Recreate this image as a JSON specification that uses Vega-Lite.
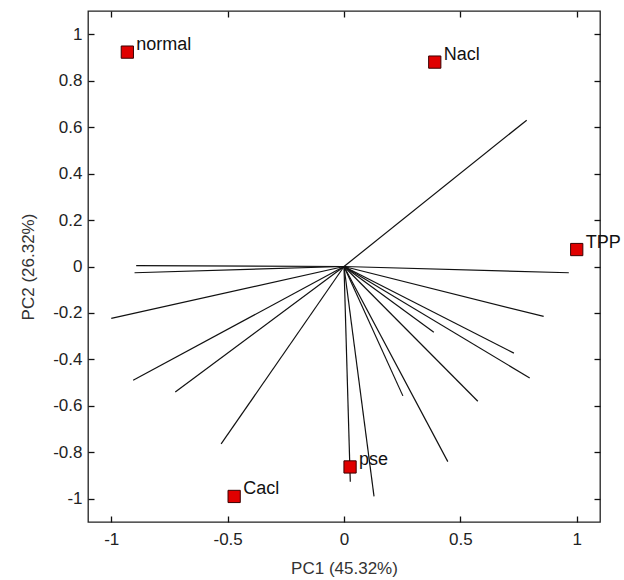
{
  "$schema": "https://vega.github.io/schema/vega-lite/v6.json",
  "width": 512,
  "height": 511,
  "autosize": {"type": "none"},
  "padding": {"left": 88, "top": 11, "right": 24, "bottom": 58},
  "background": "white",
  "config": {
    "view": {"stroke": "#222", "strokeWidth": 1.3, "fill": null},
    "font": "Liberation Sans",
    "axis": {
      "zindex": 2,
      "domain": false,
      "grid": false,
      "ticks": true,
      "tickSize": 6,
      "tickWidth": 1.3,
      "tickColor": "#111",
      "tickOpacity": 1,
      "offset": -6,
      "labelColor": "#222",
      "labelFontSize": 17,
      "labelFont": "Liberation Sans",
      "titleFont": "Liberation Sans",
      "titleFontSize": 17,
      "titleFontWeight": "normal",
      "titleColor": "#333"
    }
  },
  "datasets": {
    "loadings": [
      {"x": -0.893, "y": 0.004},
      {"x": -0.9, "y": -0.027},
      {"x": -1.0, "y": -0.223},
      {"x": -0.906, "y": -0.49},
      {"x": -0.725, "y": -0.54},
      {"x": -0.528, "y": -0.764},
      {"x": 0.027, "y": -0.927},
      {"x": 0.129, "y": -0.99},
      {"x": 0.966, "y": -0.027},
      {"x": 0.858, "y": -0.215},
      {"x": 0.386, "y": -0.283},
      {"x": 0.73, "y": -0.373},
      {"x": 0.798, "y": -0.48},
      {"x": 0.575, "y": -0.58},
      {"x": 0.253, "y": -0.557},
      {"x": 0.446, "y": -0.84},
      {"x": 0.785, "y": 0.63}
    ],
    "scores": [
      {"name": "normal", "x": -0.931, "y": 0.923},
      {"name": "Nacl", "x": 0.39, "y": 0.88},
      {"name": "TPP", "x": 1.0, "y": 0.073},
      {"name": "pse", "x": 0.026, "y": -0.863},
      {"name": "Cacl", "x": -0.472, "y": -0.99}
    ]
  },
  "layer": [
    {
      "data": {"name": "loadings"},
      "mark": {"type": "rule", "color": "#111", "strokeWidth": 1.2},
      "encoding": {
        "x": {"field": "x", "type": "quantitative",
          "scale": {"domain": [-1.1, 1.1], "nice": false, "zero": false},
          "axis": {"orient": "bottom", "values": [-1, -0.5, 0, 0.5, 1], "labelExpr": "'' + datum.value", "labelPadding": 9, "title": "PC1 (45.32%)", "titlePadding": 13}},
        "y": {"field": "y", "type": "quantitative",
          "scale": {"domain": [-1.1, 1.1], "nice": false, "zero": false},
          "axis": {"orient": "left", "values": [-1, -0.8, -0.6, -0.4, -0.2, 0, 0.2, 0.4, 0.6, 0.8, 1], "labelExpr": "'' + datum.value", "labelPadding": 6, "title": "PC2 (26.32%)", "titlePadding": 15}},
        "x2": {"datum": 0},
        "y2": {"datum": 0}
      }
    },
    {
      "data": {"name": "scores"},
      "mark": {"type": "square", "size": 150, "filled": true, "fill": "#e00000", "stroke": "#3a0000", "strokeWidth": 1, "opacity": 1},
      "encoding": {
        "x": {"field": "x", "type": "quantitative",
          "axis": {"orient": "top", "values": [-1, -0.5, 0, 0.5, 1], "labels": false, "title": null}},
        "y": {"field": "y", "type": "quantitative",
          "axis": {"orient": "right", "values": [-1, -0.8, -0.6, -0.4, -0.2, 0, 0.2, 0.4, 0.6, 0.8, 1], "labels": false, "title": null}}
      }
    },
    {
      "data": {"name": "scores"},
      "mark": {"type": "text", "align": "left", "baseline": "alphabetic", "dx": 9, "dy": -2, "fontSize": 18, "font": "Liberation Sans", "color": "#111"},
      "encoding": {
        "x": {"field": "x", "type": "quantitative", "axis": null},
        "y": {"field": "y", "type": "quantitative", "axis": null},
        "text": {"field": "name"}
      }
    }
  ],
  "resolve": {"axis": {"x": "independent", "y": "independent"}}
}
